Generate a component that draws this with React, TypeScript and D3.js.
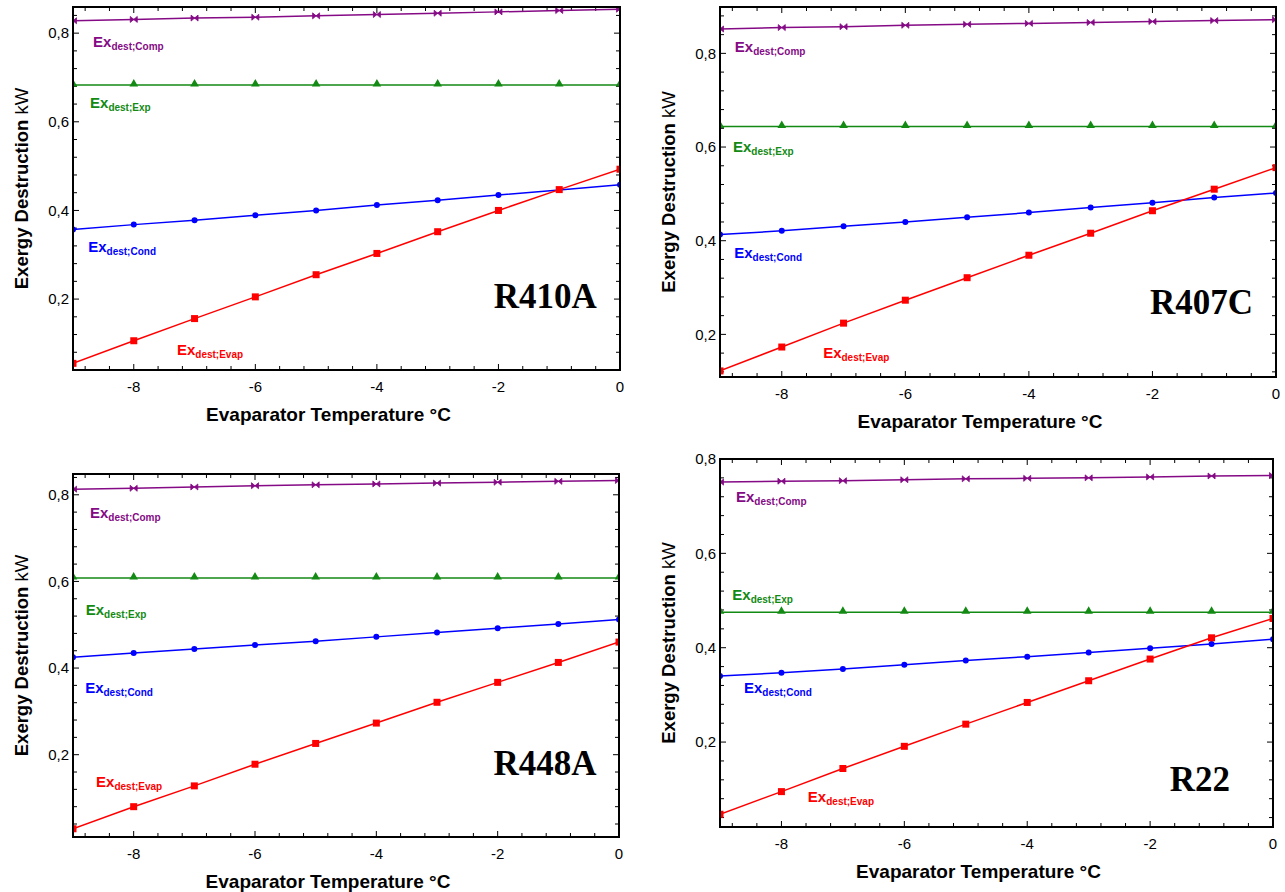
import React from 'react'
import * as d3 from 'd3'

// evaporator temperature, °C
const temps = [-9, -8, -7, -6, -5, -4, -3, -2, -1, 0]

// exergy destruction, kW
const r410aComp = [0.828, 0.831, 0.834, 0.836, 0.839, 0.842, 0.845, 0.848, 0.851, 0.854]
const r410aExp = [0.683, 0.683, 0.683, 0.683, 0.683, 0.683, 0.683, 0.683, 0.683, 0.683]
const r410aCond = [0.357, 0.368, 0.378, 0.389, 0.4, 0.412, 0.423, 0.435, 0.446, 0.458]
const r410aEvap = [0.055, 0.106, 0.156, 0.205, 0.255, 0.303, 0.352, 0.4, 0.447, 0.493]

const r407cComp = [0.852, 0.855, 0.857, 0.86, 0.862, 0.864, 0.866, 0.868, 0.87, 0.872]
const r407cExp = [0.644, 0.644, 0.644, 0.644, 0.644, 0.644, 0.644, 0.644, 0.644, 0.644]
const r407cCond = [0.413, 0.421, 0.431, 0.44, 0.45, 0.46, 0.471, 0.481, 0.492, 0.502]
const r407cEvap = [0.122, 0.173, 0.224, 0.273, 0.321, 0.369, 0.416, 0.464, 0.51, 0.556]

const r448aComp = [0.813, 0.815, 0.818, 0.821, 0.823, 0.825, 0.827, 0.829, 0.831, 0.833]
const r448aExp = [0.608, 0.608, 0.608, 0.608, 0.608, 0.608, 0.608, 0.608, 0.608, 0.608]
const r448aCond = [0.425, 0.435, 0.444, 0.453, 0.462, 0.472, 0.482, 0.492, 0.502, 0.512]
const r448aEvap = [0.029, 0.08, 0.128, 0.178, 0.226, 0.273, 0.321, 0.367, 0.413, 0.46]

const r22Comp = [0.751, 0.753, 0.754, 0.756, 0.758, 0.759, 0.76, 0.762, 0.764, 0.765]
const r22Exp = [0.475, 0.475, 0.475, 0.475, 0.475, 0.475, 0.475, 0.475, 0.475, 0.475]
const r22Cond = [0.34, 0.347, 0.355, 0.364, 0.373, 0.381, 0.39, 0.399, 0.408, 0.418]
const r22Evap = [0.047, 0.095, 0.144, 0.191, 0.238, 0.284, 0.33, 0.376, 0.421, 0.462]

const xTicks = [-8, -6, -4, -2, 0]
const yTicks = [0.2, 0.4, 0.6, 0.8]
const seriesNames = ['Comp', 'Exp', 'Cond', 'Evap']
const refrigerants = ['R410A', 'R407C', 'R448A', 'R22']

const colors = { Comp: '#850a85', Exp: '#138a13', Cond: '#0000ff', Evap: '#ff0000' }

// plot frames (px), y domains and where the annotations sit (data coords)
const panels = [
  {
    name: 'R410A', box: [73, 7, 620, 370], yDomain: [0.04, 0.859],
    series: [r410aComp, r410aExp, r410aCond, r410aEvap],
    labels: [[-8.67, 0.768], [-8.72, 0.631], [-8.75, 0.306], [-7.29, 0.074]],
    title: [-0.38, 0.18],
  },
  {
    name: 'R407C', box: [720, 7, 1276, 377], yDomain: [0.109, 0.899],
    series: [r407cComp, r407cExp, r407cCond, r407cEvap],
    labels: [[-8.76, 0.803], [-8.79, 0.589], [-8.77, 0.364], [-7.33, 0.15]],
    title: [-0.37, 0.244],
  },
  {
    name: 'R448A', box: [73, 474, 619, 837], yDomain: [0.01, 0.848],
    series: [r448aComp, r448aExp, r448aCond, r448aEvap],
    labels: [[-8.72, 0.747], [-8.79, 0.523], [-8.8, 0.343], [-8.62, 0.126]],
    title: [-0.37, 0.153],
  },
  {
    name: 'R22', box: [720, 459, 1273, 827], yDomain: [0.02, 0.8],
    series: [r22Comp, r22Exp, r22Cond, r22Evap],
    labels: [[-8.74, 0.709], [-8.8, 0.501], [-8.61, 0.303], [-7.57, 0.072]],
    title: [-0.7, 0.097],
  },
]

const FONT = "'Liberation Sans', Arial, sans-serif"

const App = () => {
  const svgRef = React.useRef<SVGSVGElement>(null)

  React.useEffect(() => {
    const svg = d3.select(svgRef.current)
    svg.selectAll('*').remove()

    panels.forEach((p, pi) => {
      const [left, top, right, bottom] = p.box
      const x = d3.scaleLinear().domain([-9, 0]).range([left, right])
      const y = d3.scaleLinear().domain(p.yDomain).range([bottom, top])
      const g = svg.append('g')

      const clipId = 'clip' + pi
      svg.append('clipPath').attr('id', clipId)
        .append('rect')
        .attr('x', left).attr('y', top)
        .attr('width', right - left).attr('height', bottom - top)

      // ticks (inside, on all four sides)
      const minorX = d3.range(-8.8, 0.01, 0.4).map((v) => Math.round(v * 10) / 10)
      const minorY = d3.range(0, 1, 0.04)
        .map((v) => Math.round(v * 100) / 100)
        .filter((v) => v >= p.yDomain[0] - 1e-6 && v <= p.yDomain[1])

      minorX.forEach((v) => {
        const major = xTicks.includes(v)
        const len = major ? 6 : 4
        g.append('line').attr('x1', x(v)).attr('x2', x(v)).attr('y1', bottom).attr('y2', bottom - len)
          .attr('stroke', 'black').attr('stroke-width', 1)
        g.append('line').attr('x1', x(v)).attr('x2', x(v)).attr('y1', top).attr('y2', top + len)
          .attr('stroke', 'black').attr('stroke-width', 1)
      })
      minorY.forEach((v) => {
        const major = yTicks.some((t) => Math.abs(t - v) < 1e-6)
        const len = major ? 6 : 4
        g.append('line').attr('x1', left).attr('x2', left + len).attr('y1', y(v)).attr('y2', y(v))
          .attr('stroke', 'black').attr('stroke-width', 1)
        g.append('line').attr('x1', right).attr('x2', right - len).attr('y1', y(v)).attr('y2', y(v))
          .attr('stroke', 'black').attr('stroke-width', 1)
      })

      // tick labels
      g.selectAll('.xl').data(xTicks).enter().append('text')
        .attr('x', (d) => x(d)).attr('y', bottom + 22)
        .attr('text-anchor', 'middle')
        .style('font-family', FONT).style('font-size', '15px')
        .text((d) => String(d))

      g.selectAll('.yl').data(yTicks.filter((t) => t <= p.yDomain[1] + 1e-6)).enter().append('text')
        .attr('x', left - 4).attr('y', (d) => y(d)).attr('dy', '0.35em')
        .attr('text-anchor', 'end')
        .style('font-family', FONT).style('font-size', '15px')
        .text((d) => d.toFixed(1).replace('.', ','))

      // series
      const plot = g.append('g').attr('clip-path', `url(#${clipId})`)
      p.series.forEach((vals, si) => {
        const name = seriesNames[si]
        const color = colors[name]
        const pts = temps.map((t, i) => [t, vals[i]])
        const line = d3.line<number[]>().x((d) => x(d[0])).y((d) => y(d[1]))
        plot.append('path').attr('d', line(pts)).attr('fill', 'none')
          .attr('stroke', color).attr('stroke-width', 1.5)

        pts.forEach(([t, v]) => {
          const cx = x(t)
          const cy = y(v)
          if (name === 'Comp') {
            plot.append('path')
              .attr('d', 'M-3.5,-3L0,0L-3.5,3ZM3.5,-3L0,0L3.5,3Z')
              .attr('transform', `translate(${cx},${cy})`)
              .attr('fill', color).attr('stroke', color).attr('stroke-width', 0.8)
          } else if (name === 'Exp') {
            plot.append('path')
              .attr('d', d3.symbol(d3.symbolTriangle, 32)())
              .attr('transform', `translate(${cx},${cy - 1})`)
              .attr('fill', color)
          } else if (name === 'Cond') {
            plot.append('circle').attr('cx', cx).attr('cy', cy).attr('r', 3).attr('fill', color)
          } else {
            plot.append('rect').attr('x', cx - 3.5).attr('y', cy - 3.5)
              .attr('width', 7).attr('height', 7).attr('fill', color)
          }
        })

        // annotation
        const [lx, ly] = p.labels[si]
        const txt = g.append('text').attr('x', x(lx)).attr('y', y(ly))
          .style('font-family', FONT).style('font-weight', 'bold').attr('fill', color)
        txt.append('tspan').style('font-size', '15px').text('Ex')
        txt.append('tspan').style('font-size', '10px').attr('dy', 3).text('dest;' + name)
      })

      // frame
      g.append('rect').attr('x', left).attr('y', top)
        .attr('width', right - left).attr('height', bottom - top)
        .attr('fill', 'none').attr('stroke', 'black').attr('stroke-width', 2)

      // refrigerant name
      g.append('text').attr('x', x(p.title[0])).attr('y', y(p.title[1]))
        .attr('text-anchor', 'end')
        .style('font-family', "'Liberation Serif', 'Times New Roman', serif")
        .style('font-weight', 'bold').style('font-size', '35px')
        .text(refrigerants[pi])

      // axis titles
      g.append('text')
        .attr('x', (left + right) / 2 - 18).attr('y', bottom + 51)
        .attr('text-anchor', 'middle')
        .style('font-family', FONT).style('font-weight', 'bold').style('font-size', '19px')
        .text('Evaparator Temperature °C')

      const yt = g.append('text')
        .attr('transform', `translate(${left - 45},${(top + bottom) / 2}) rotate(-90)`)
        .attr('text-anchor', 'middle')
        .style('font-family', FONT).style('font-size', '18.5px')
      yt.append('tspan').style('font-weight', 'bold').text('Exergy Destruction ')
      yt.append('tspan').text('kW')
    })
  }, [])

  return (
    <div style={{ position: 'absolute', left: 0, top: 0, width: 1285, height: 892, background: 'white' }}>
      <svg ref={svgRef} width={1285} height={892}></svg>
    </div>
  )
}

export default App
